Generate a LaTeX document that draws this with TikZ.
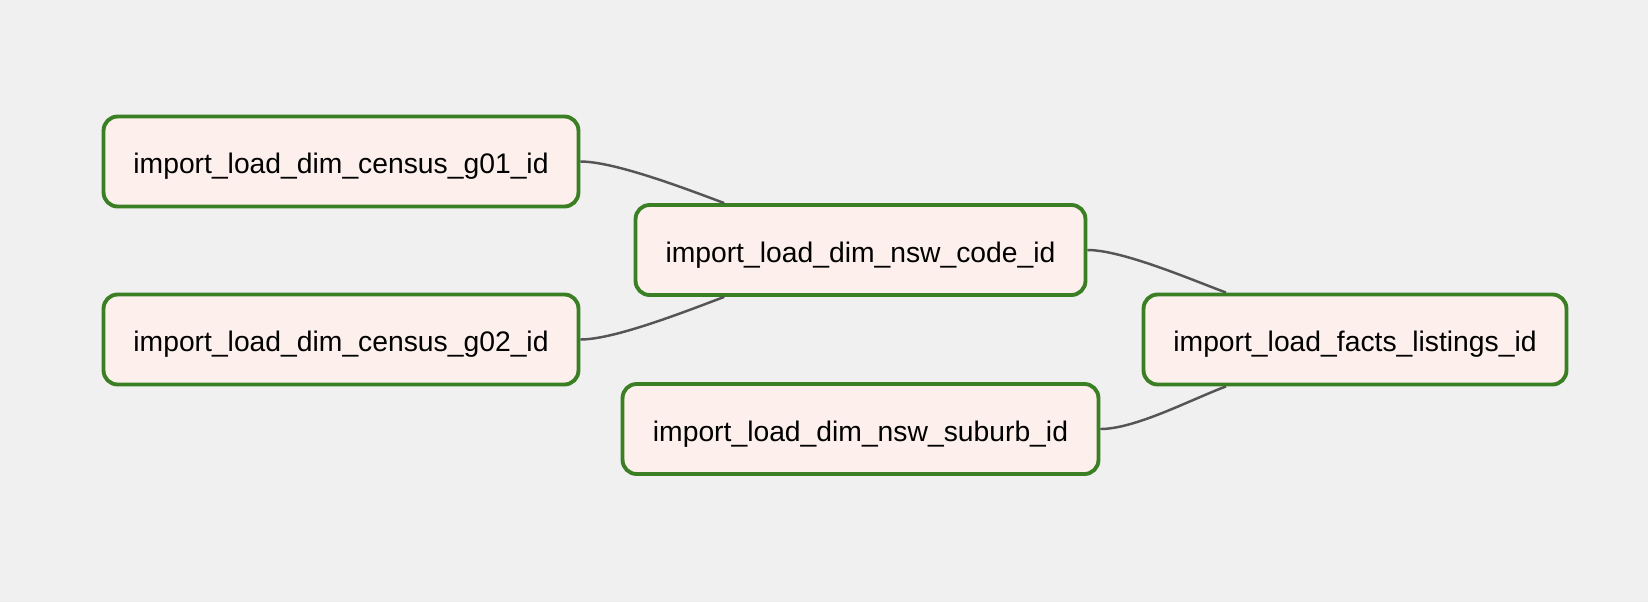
\documentclass[tikz,border=0pt]{standalone}
\usepackage{fontspec}
\setmainfont{Liberation Sans}
\definecolor{bggray}{HTML}{F0F0F0}
\definecolor{taskfill}{HTML}{FDF0EC}
\definecolor{taskgreen}{HTML}{3A7F24}
\definecolor{edgegray}{HTML}{555555}
\begin{document}
\begin{tikzpicture}[x=0.02cm,y=-0.02cm,
		task/.style={draw=taskgreen,fill=taskfill,line width=2.2pt,rounded corners=8pt,
			minimum height=1.8cm,inner sep=0pt,text height=14pt,text depth=0pt,
			font=\fontsize{16.1}{19}\selectfont},
		dep/.style={draw=edgegray,line width=1.4pt}]
		\fill[bggray] (0,0) rectangle (1648,602);
		\useasboundingbox (0,0) rectangle (1648,602);
		% tasks
		\node[task,minimum width=9.5cm] (g01) at (341,161.5) {import\_load\_dim\_census\_g01\_id};
		\node[task,minimum width=9.5cm] (g02) at (341,339.5) {import\_load\_dim\_census\_g02\_id};
		\node[task,minimum width=9cm] (code) at (860.5,250) {import\_load\_dim\_nsw\_code\_id};
		\node[task,minimum width=9.52cm] (suburb) at (860.5,429) {import\_load\_dim\_nsw\_suburb\_id};
		\node[task,minimum width=8.46cm] (facts) at (1355,339.5) {import\_load\_facts\_listings\_id};
		% dependencies
		\draw[dep] (g01.east) .. controls +(35,0) and +(-35,-13) .. (code.161);
		\draw[dep] (g02.east) .. controls +(35,0) and +(-35,13) .. (code.199);
		\draw[dep] (code.east) .. controls +(35,0) and +(-35,-13) .. (facts.160);
		\draw[dep] (suburb.east) .. controls +(35,0) and +(-35,13) .. (facts.200);
	\end{tikzpicture}
\end{document}
